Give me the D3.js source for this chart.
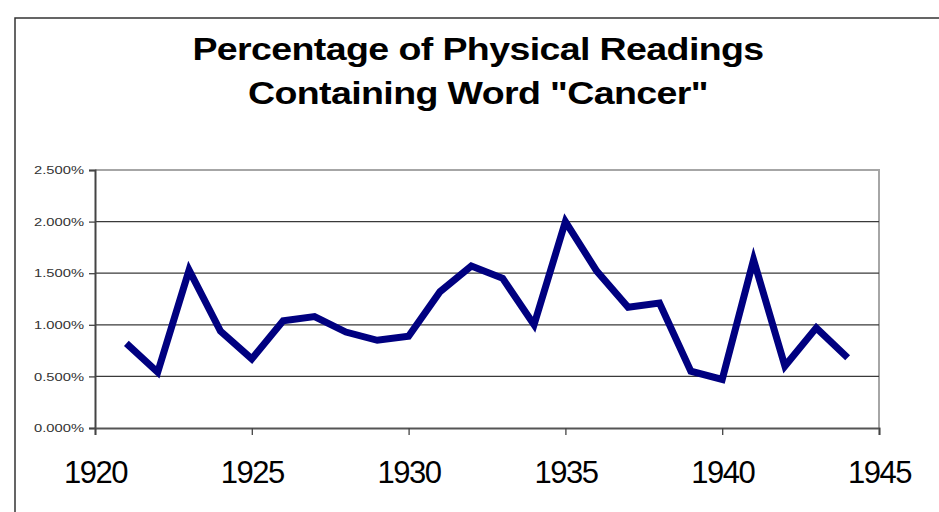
<!DOCTYPE html>
<html>
<head>
<meta charset="utf-8">
<script src="https://cdn.jsdelivr.net/npm/d3@7"></script>
<style>
  body { margin: 0; background: #fff; }
  svg { display: block; font-family: Arial, "Liberation Sans", sans-serif; }
</style>
</head>
<body>
<div id="chart"></div>
<script>
'use strict';

// values (percent)
var years = [1921, 1922, 1923, 1924, 1925, 1926, 1927, 1928, 1929, 1930, 1931, 1932,
             1933, 1934, 1935, 1936, 1937, 1938, 1939, 1940, 1941, 1942, 1943, 1944];
var cancerPct = [0.82, 0.54, 1.53, 0.94, 0.67, 1.04, 1.08, 0.93, 0.85, 0.89, 1.32, 1.57,
                 1.45, 1.00, 2.00, 1.52, 1.17, 1.21, 0.55, 0.47, 1.63, 0.60, 0.97, 0.68];
var yTicks = [0, 0.5, 1.0, 1.5, 2.0, 2.5];
var xTicks = [1920, 1925, 1930, 1935, 1940, 1945];
var titleLines = ['Percentage of Physical Readings', 'Containing Word "Cancer"'];

(function() {
var width = 939, height = 512;
const padLeft = 95, padRight = 879, padTop = 170, padBottom = 428;

var svg = d3.select('#chart').append('svg')
    .attr('width', width)
    .attr('height', height);

// outer chart frame (runs off the right and bottom edges)
svg.append('rect')
    .attr('x', 15).attr('y', 18)
    .attr('width', 960).attr('height', 560)
    .attr('fill', 'none')
    .attr('stroke', '#333')
    .attr('stroke-width', 1.5);

var x = d3.scaleLinear().domain([1920, 1945]).range([padLeft, padRight]);
var y = d3.scaleLinear().domain([0, 2.5]).range([padBottom, padTop]);

// plot area border (light grey top / right)
svg.append('path')
    .attr('d', d3.line()([[x(1920), y(2.5)], [x(1945), y(2.5)], [x(1945), y(0)]]))
    .attr('fill', 'none')
    .attr('stroke', '#a6a6a6')
    .attr('stroke-width', 2);

// gridlines
svg.append('g').selectAll('line')
    .data(yTicks.filter(function(d) { return d > 0 && d < 2.5; }))
    .enter().append('line')
    .attr('x1', x(1920)).attr('x2', x(1945))
    .attr('y1', function(d) { return y(d); })
    .attr('y2', function(d) { return y(d); })
    .attr('stroke', '#3a3a3a')
    .attr('stroke-width', 1.3);

// y axis
var yAxis = svg.append('g')
    .attr('transform', 'translate(' + padLeft + ',0)')
    .call(d3.axisLeft(y).tickValues(yTicks).tickSize(6).tickPadding(5)
        .tickFormat(function(d) { return d3.format('.3f')(d) + '%'; }));
yAxis.select('.domain').attr('stroke', '#444').attr('stroke-width', 2);
yAxis.selectAll('.tick line').attr('stroke', '#444').attr('stroke-width', 1.3);
yAxis.selectAll('.tick text')
    .attr('fill', '#333')
    .style('font-size', '11.5px')
    .style('font-family', 'Arial, "Liberation Sans", sans-serif')
    .each(function() {
        var w = this.getComputedTextLength();
        d3.select(this).attr('textLength', w * 1.28).attr('lengthAdjust', 'spacingAndGlyphs');
    });

// x axis
var xAxis = svg.append('g')
    .attr('transform', 'translate(0,' + padBottom + ')')
    .call(d3.axisBottom(x).tickValues(xTicks).tickSize(7).tickPadding(26)
        .tickFormat(d3.format('d')));
xAxis.select('.domain').attr('stroke', '#555').attr('stroke-width', 2);
xAxis.selectAll('.tick line').attr('stroke', '#444').attr('stroke-width', 1.3);
xAxis.selectAll('.tick text')
    .attr('fill', '#000')
    .style('font-size', '31px')
    .style('font-family', 'Arial, "Liberation Sans", sans-serif')
    .style('letter-spacing', '-1.5px');

// data line
var line = d3.line()
    .x(function(d, i) { return x(years[i]); })
    .y(function(d) { return y(d); });

svg.append('path')
    .datum(cancerPct)
    .attr('d', line)
    .attr('fill', 'none')
    .attr('stroke', '#000080')
    .attr('stroke-width', 7)
    .attr('stroke-linejoin', 'miter');

// title
svg.append('g').selectAll('text')
    .data(titleLines)
    .enter().append('text')
    .attr('x', 478)
    .attr('y', function(d, i) { return 60 + i * 44; })
    .attr('text-anchor', 'middle')
    .style('font-size', '31px')
    .style('font-weight', 'bold')
    .style('letter-spacing', '-0.5px')
    .text(function(d) { return d; })
    .each(function(d, i) {
        var w = this.getComputedTextLength();
        d3.select(this).attr('textLength', w * 1.21).attr('lengthAdjust', 'spacingAndGlyphs');
    });
})();
</script>
</body>
</html>
